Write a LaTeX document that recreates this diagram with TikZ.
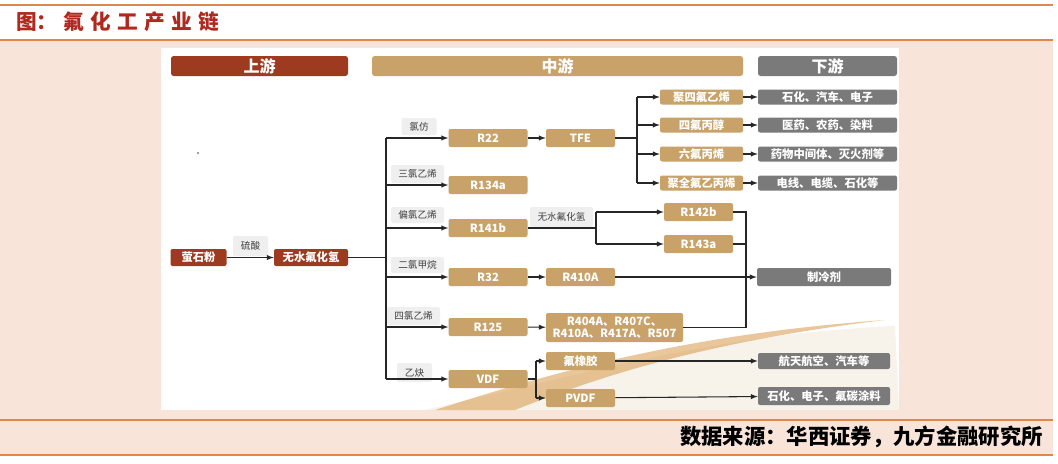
\documentclass[tikz,border=0pt]{standalone}
\usepackage{fontspec}
\setmainfont{Noto Sans CJK SC}
\usetikzlibrary{arrows}
\usetikzlibrary{calc}
\definecolor{upred}{HTML}{9E3A1F}
\definecolor{midtan}{HTML}{C8A268}
\definecolor{downgray}{HTML}{7A7A7A}
\definecolor{tagfill}{HTML}{EFEFEF}
\definecolor{taggray}{HTML}{404040}
\definecolor{titlered}{HTML}{B0281E}
\definecolor{ruleorange}{HTML}{E0874A}
\definecolor{peach}{HTML}{F8E4D8}
\definecolor{linegray}{HTML}{262626}

\begin{document}
\begin{tikzpicture}[>=latex,x=0.75pt,y=-0.75pt,
    every node/.style={inner sep=0pt},
    rule/.style={ruleorange,line width=1.2pt},
    bar/.style={rounded corners=2pt,minimum height=15pt,text=white,
      font=\fontsize{12}{14}\selectfont\bfseries},
    box/.style={rounded corners=1.5pt,text=white,
      font=\fontsize{8.5}{10}\selectfont\bfseries},
    upnode/.style={box,fill=upred,minimum height=12.75pt},
    midnode/.style={box,fill=midtan,minimum height=13.5pt},
    downnode/.style={box,fill=downgray},
    tag/.style={rounded corners=1.5pt,fill=tagfill,text=taggray,
      minimum height=13.5pt,font=\fontsize{7.2}{9}\selectfont},
    link/.style={draw=linegray,line width=0.8pt}]
  \useasboundingbox (0,0) rectangle (1058,464);
  % frame of the page
  \fill[peach] (0,40) rectangle (1053,455);
  \fill[white] (161,48) rectangle (899,410);
  \draw[rule] (0,5) -- (1053,5);
  \draw[rule] (0,40) -- (1053,40);
  \draw[rule] (0,420) -- (1053,420);
  \draw[rule] (0,455) -- (1053,455);
  \node[anchor=west,text=titlered,font=\fontsize{15.5}{17}\selectfont\bfseries] (title) at (16,22)
    {图：\hspace{0.3em}氟\hspace{0.3em}化\hspace{0.3em}工\hspace{0.3em}产\hspace{0.3em}业\hspace{0.3em}链};
  \node[anchor=east,font=\fontsize{16}{18}\selectfont\bfseries] (source) at (1043,437)
    {数据来源：华西证券，九方金融研究所};
  % gold swoosh in the background
  \fill[midtan!22,opacity=0.6] (425,410) .. controls (600,370) and (720,334) .. (895,326) -- (899,410) -- cycle;
  \fill[midtan!70!orange,opacity=0.55] (435,410) .. controls (560,370) and (690,334) .. (885,320) .. controls (700,342) and (590,380) .. (515,410) -- cycle;
  \fill[gray] (198,153) circle (1.2);
  % headers
  \node[bar,fill=upred,minimum width=132.75pt] (hup) at (259.5,66) {上游};
  \node[bar,fill=midtan,minimum width=278.25pt] (hmid) at (557.5,66) {中游};
  \node[bar,fill=downgray,minimum width=104.25pt] (hdown) at (827.5,66) {下游};
  % upstream
  \node[upnode,minimum width=42pt] (fluorite) at (198.5,257.5) {萤石粉};
  \node[upnode,minimum width=55.5pt] (ahf) at (311,257.5) {无水氟化氢};
  \node[tag,minimum width=26.25pt,minimum height=15pt] (acid) at (250.5,246) {硫酸};
  \draw[link,->] (fluorite) -- (ahf);
  % midstream, first column
  \node[midnode,minimum width=59.25pt] (r22) at (488,138) {R22};
  \node[midnode,minimum width=59.25pt] (r134a) at (488,185) {R134a};
  \node[midnode,minimum width=59.25pt] (r141b) at (488,228) {R141b};
  \node[midnode,minimum width=59.25pt] (r32) at (488,277) {R32};
  \node[midnode,minimum width=59.25pt] (r125) at (488,327) {R125};
  \node[midnode,minimum width=59.25pt] (vdf) at (488,379) {VDF};
  \node[tag,minimum width=26.25pt,minimum height=12.75pt] (chcl) at (419,126.5) {氯仿};
  \node[tag,minimum width=39.75pt] (tce) at (417.5,174) {三氯乙烯};
  \node[tag,minimum width=39.75pt,minimum height=12pt] (vdc) at (417.5,215) {偏氯乙烯};
  \node[tag,minimum width=39.75pt,minimum height=12pt] (dcm) at (417.5,265) {二氯甲烷};
  \node[tag,minimum width=39.75pt] (pce) at (413.5,316) {四氯乙烯};
  \node[tag,minimum width=26.25pt,minimum height=14pt] (acet) at (414.5,372.5) {乙炔};
  \coordinate (trunktop) at (386,138);
  \coordinate (trunkbot) at (386,379);
  \draw[link] (ahf.east) -- (ahf.east -| trunktop);
  \draw[link] (trunktop) -- (trunkbot);
  \draw[link,->] (trunktop) -- (r22.west);
  \draw[link,->] (r134a.west -| trunktop) -- (r134a.west);
  \draw[link,->] (r141b.west -| trunktop) -- (r141b.west);
  \draw[link,->] (r32.west -| trunktop) -- (r32.west);
  \draw[link,->] (r125.west -| trunktop) -- (r125.west);
  \draw[link,->] (trunkbot) -- (vdf.west);
  % midstream, second column
  \node[midnode,minimum width=51.75pt] (tfe) at (580.5,138) {TFE};
  \node[midnode,minimum width=51.75pt] (r410a) at (580.5,277) {R410A};
  \node[midnode,minimum width=102.75pt,minimum height=21.75pt,align=center,
    font=\fontsize{8.5}{9.5}\selectfont\bfseries] (blend) at (614.5,327.5) {R404A、R407C、\\R410A、R417A、R507};
  \node[midnode,minimum width=51.75pt] (rubber) at (580.5,361) {氟橡胶};
  \node[midnode,minimum width=51.75pt] (pvdf) at (580.5,398) {PVDF};
  \node[tag,minimum width=47.25pt,minimum height=15pt] (hf) at (561.5,217) {无水氟化氢};
  \node[midnode,minimum width=51.75pt] (r142b) at (698.5,212) {R142b};
  \node[midnode,minimum width=51.75pt] (r143a) at (698.5,244) {R143a};
  \draw[link,->] (r22) -- (tfe);
  \draw[link,->] (r32) -- (r410a);
  \draw[link,->] (r125) -- (blend);
  % TFE products
  \node[midnode,minimum width=62.25pt,minimum height=11.25pt] (ptfe) at (701.5,97) {聚四氟乙烯};
  \node[midnode,minimum width=62.25pt,minimum height=11.25pt] (tfp) at (701.5,125) {四氟丙醇};
  \node[midnode,minimum width=62.25pt,minimum height=11.25pt] (hfp) at (701.5,154) {六氟丙烯};
  \node[midnode,minimum width=62.25pt,minimum height=11.25pt] (fep) at (701.5,183) {聚全氟乙丙烯};
  \coordinate (tfesplit) at (637,138);
  \draw[link] (tfe.east) -- (tfesplit);
  \draw[link] (tfesplit |- ptfe) -- (tfesplit |- fep);
  \foreach \n in {ptfe,tfp,hfp,fep}
    \draw[link,->] (tfesplit |- \n) -- (\n.west);
  % downstream
  \node[downnode,minimum width=104.25pt,minimum height=11.25pt] (use1) at (827.5,97) {石化、汽车、电子};
  \node[downnode,minimum width=104.25pt,minimum height=11.25pt] (use2) at (827.5,125) {医药、农药、染料};
  \node[downnode,minimum width=104.25pt,minimum height=11.25pt] (use3) at (827.5,154) {药物中间体、灭火剂等};
  \node[downnode,minimum width=104.25pt,minimum height=11.25pt] (use4) at (827.5,183) {电线、电缆、石化等};
  \draw[link,->] (ptfe) -- (use1);
  \draw[link,->] (tfp) -- (use2);
  \draw[link,->] (hfp) -- (use3);
  \draw[link,->] (fep) -- (use4);
  \node[downnode,minimum width=100.5pt,minimum height=13.5pt] (cool) at (824,277) {制冷剂};
  \node[downnode,minimum width=99pt,minimum height=12pt] (aero) at (824,361) {航天航空、汽车等};
  \node[downnode,minimum width=99pt,minimum height=13.5pt] (coat) at (824,396) {石化、电子、氟碳涂料};
  % R141b branch
  \coordinate (hfsplit) at (596,228);
  \draw[link] (r141b.east) -- (hfsplit);
  \draw[link] (hfsplit |- r142b) -- (hfsplit |- r143a);
  \draw[link,->] (hfsplit |- r142b) -- (r142b.west);
  \draw[link,->] (hfsplit |- r143a) -- (r143a.west);
  % refrigerant collector
  \coordinate (collect) at (746,212);
  \draw[link] (r142b.east) -- (collect) -- (collect |- blend) -- (blend.east);
  \draw[link] (r143a.east) -- (collect |- r143a);
  \draw[link,->] (r410a.east) -- (cool.west);
  % VDF branch
  \coordinate (vdfsplit) at (536,379);
  \draw[link] (vdf.east) -- (vdfsplit);
  \draw[link] (vdfsplit |- rubber) -- (vdfsplit |- pvdf);
  \draw[link,->] (vdfsplit |- rubber) -- (rubber.west);
  \draw[link,->] (vdfsplit |- pvdf) -- (pvdf.west);
  \draw[link,->] (rubber) -- (aero);
  \draw[link,->] (pvdf) -- (coat);
\end{tikzpicture}
\end{document}
